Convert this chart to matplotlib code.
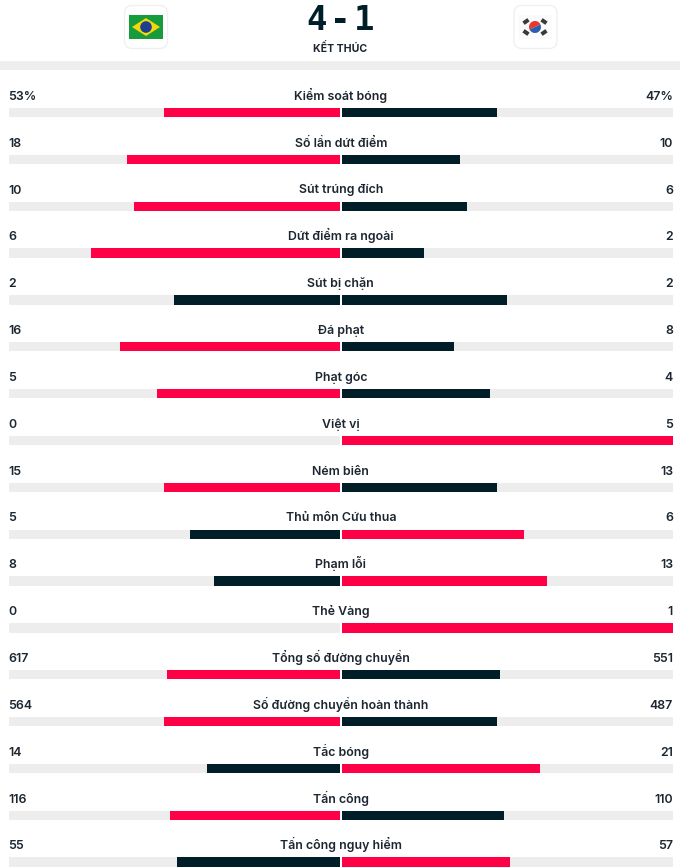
import matplotlib
matplotlib.use("Agg")
import matplotlib.pyplot as plt
from matplotlib.patches import FancyBboxPatch, Rectangle, Polygon, Circle, Wedge

plt.rcParams['font.family'] = ['Inter', 'Noto Sans', 'DejaVu Sans']

categories = ["Kiểm soát bóng", "Số lần dứt điểm", "Sút trúng đích", "Dứt điểm ra ngoài",
              "Sút bị chặn", "Đá phạt", "Phạt góc", "Việt vị", "Ném biên", "Thủ môn Cứu thua",
              "Phạm lỗi", "Thẻ Vàng", "Tổng số đường chuyền", "Số đường chuyền hoàn thành",
              "Tắc bóng", "Tấn công", "Tấn công nguy hiểm"]
home_labels = ["53%", "18", "10", "6", "2", "16", "5", "0", "15", "5", "8", "0", "617", "564", "14", "116", "55"]
away_labels = ["47%", "10", "6", "2", "2", "8", "4", "5", "13", "6", "13", "1", "551", "487", "21", "110", "57"]
# bar shares in whole percent, as drawn in the reference
home_pct = [53, 64, 62, 75, 50, 66, 55, 0, 53, 45, 38, 0, 52, 53, 40, 51, 49]
away_pct = [47, 36, 38, 25, 50, 34, 45, 100, 47, 55, 62, 100, 48, 47, 60, 49, 51]
score_parts = ["4", "-", "1"]

RED = "#ff0046"
DARK = "#001e28"
TRACK = "#ededed"
TEXT = "#1c2630"

W, H = 680, 868
fig = plt.figure(figsize=(W / 100, H / 100), dpi=100, facecolor="white")

px = fig.add_axes([0, 0, 1, 1])
px.set_xlim(0, W); px.set_ylim(H, 0); px.axis("off")

ax = fig.add_axes([0, 0, 1, 1], facecolor="none")
cx, half, y0, dy = 340.8, 332.3, 112.5, 46.85
ax.set_xlim(-cx / half, (W - cx) / half)
ax.set_ylim((H - y0) / dy, -y0 / dy)
ax.axis("off")

gap = 1.0 / half
bar_h = 9.3 / dy
label_off = 12.7 / dy
FS = 8.9
WT = "semibold"

for i, c in enumerate(categories):
    pa, pb = home_pct[i] / 100, away_pct[i] / 100
    ax.barh(i, -(1 - gap), left=-gap, height=bar_h, color=TRACK, lw=0, zorder=1)
    ax.barh(i, 1 - gap, left=gap, height=bar_h, color=TRACK, lw=0, zorder=1)
    ca = RED if pa > pb else DARK
    cb = RED if pb > pa else DARK
    if pa > 0:
        ax.barh(i, -pa, left=-gap, height=bar_h, color=ca, lw=0, zorder=2)
    if pb > 0:
        ax.barh(i, pb - gap, left=gap, height=bar_h, color=cb, lw=0, zorder=2)
    ax.text(0, i - label_off, c, ha="center", va="baseline", fontsize=FS, fontweight=WT, color=TEXT)
    ax.text(-1, i - label_off, home_labels[i], ha="left", va="baseline", fontsize=FS, fontweight=WT, color=TEXT)
    ax.text(1, i - label_off, away_labels[i], ha="right", va="baseline", fontsize=FS, fontweight=WT, color=TEXT)

px.add_patch(Rectangle((0, 61), W, 9, color="#eeeeee", lw=0))
for part, xp in zip(score_parts, (316.5, 340.5, 364)):
    px.text(xp, 30, part, ha="center", va="baseline", fontsize=24.5, fontweight="bold",
            family="DejaVu Sans Mono", color=DARK)
px.text(340.5, 52, "KẾT THÚC", ha="center", va="baseline", fontsize=7.6, fontweight="bold", color=TEXT)

for x in (124.5, 514):
    px.add_patch(FancyBboxPatch((x + 5, 10.5), 33, 33, boxstyle="round,pad=5,rounding_size=8",
                                fc="white", ec="#f0f0f0", lw=1))
# Brazil flag
px.add_patch(Rectangle((129.3, 15), 33.4, 23.7, color="#169c3c", lw=0))
px.add_patch(Polygon([(132, 27), (146, 18), (160, 27), (146, 36)], color="#f7d708", lw=0))
px.add_patch(Circle((146, 27), 5.8, color="#1d3f8f", lw=0))
# Korea flag
px.add_patch(Rectangle((518, 15), 34, 24, color="#fbfbfb", lw=0))
px.add_patch(Wedge((535, 27), 6, 155, 335, color="#e8392f", lw=0))
px.add_patch(Wedge((535, 27), 6, 335, 155, color="#2a5fb0", lw=0))
for (xa, ya, ang) in [(526, 21.5, -35), (544, 21.5, 35), (526, 32.5, 35), (544, 32.5, -35)]:
    px.add_patch(Rectangle((xa - 3, ya - 2), 6, 4, angle=ang, rotation_point="center",
                           color="#3a3a3a", lw=0))

fig.savefig("out.png", dpi=100, facecolor="white")
